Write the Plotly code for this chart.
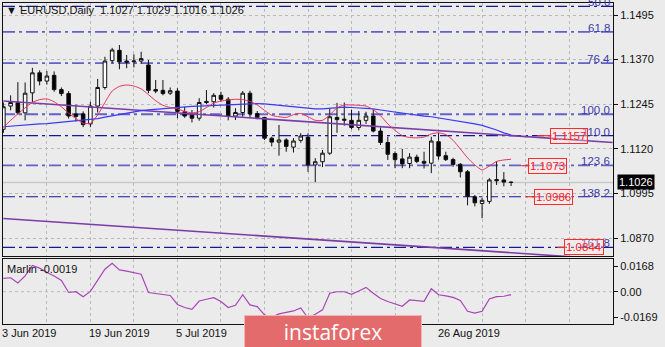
import plotly.graph_objects as go

# ---------------- data ----------------
dates = ["2019-06-03","2019-06-04","2019-06-05","2019-06-06","2019-06-07",
         "2019-06-10","2019-06-11","2019-06-12","2019-06-13","2019-06-14",
         "2019-06-17","2019-06-18","2019-06-19","2019-06-20","2019-06-21",
         "2019-06-24","2019-06-25","2019-06-26","2019-06-27","2019-06-28",
         "2019-07-01","2019-07-02","2019-07-03","2019-07-04","2019-07-05",
         "2019-07-08","2019-07-09","2019-07-10","2019-07-11","2019-07-12",
         "2019-07-15","2019-07-16","2019-07-17","2019-07-18","2019-07-19",
         "2019-07-22","2019-07-23","2019-07-24","2019-07-25","2019-07-26",
         "2019-07-29","2019-07-30","2019-07-31","2019-08-01","2019-08-02",
         "2019-08-05","2019-08-06","2019-08-07","2019-08-08","2019-08-09",
         "2019-08-12","2019-08-13","2019-08-14","2019-08-15","2019-08-16",
         "2019-08-19","2019-08-20","2019-08-21","2019-08-22","2019-08-23",
         "2019-08-26","2019-08-27","2019-08-28","2019-08-29","2019-08-30",
         "2019-09-02","2019-09-03","2019-09-04","2019-09-05","2019-09-06",
         "2019-09-09"]

opens = [1.1175,1.1240,1.1250,1.1221,1.1277,1.1333,1.1310,1.1326,1.1286,1.1275,
         1.1218,1.1218,1.1190,1.1240,1.1292,1.1367,1.1396,1.1366,1.1364,1.1366,
         1.1355,1.1286,1.1284,1.1276,1.1282,1.1224,1.1214,1.1206,1.1253,1.1252,
         1.1270,1.1259,1.1212,1.1222,1.1276,1.1219,1.1208,1.1150,1.1139,1.1145,
         1.1125,1.1144,1.1153,1.1075,1.1084,1.1108,1.1208,1.1200,1.1200,1.1180,
         1.1200,1.1212,1.1170,1.1138,1.1107,1.1092,1.1079,1.1097,1.1085,1.1080,
         1.1140,1.1101,1.1090,1.1077,1.1056,1.0986,1.0967,1.0973,1.1034,1.1033,
         1.1027]
highs = [1.1250,1.1270,1.1307,1.1306,1.1347,1.1340,1.1338,1.1337,1.1292,1.1282,
         1.1244,1.1225,1.1252,1.1316,1.1378,1.1403,1.1411,1.1383,1.1385,1.1392,
         1.1369,1.1313,1.1313,1.1292,1.1290,1.1238,1.1229,1.1262,1.1285,1.1276,
         1.1280,1.1265,1.1234,1.1282,1.1283,1.1226,1.1210,1.1154,1.1187,1.1150,
         1.1150,1.1164,1.1164,1.1094,1.1117,1.1234,1.1249,1.1250,1.1230,1.1226,
         1.1224,1.1229,1.1180,1.1154,1.1113,1.1120,1.1108,1.1104,1.1112,1.1154,
         1.1165,1.1112,1.1095,1.1080,1.1061,1.0991,1.0983,1.1038,1.1085,1.1055,
         1.1029]
lows = [1.1165,1.1228,1.1215,1.1200,1.1251,1.1298,1.1300,1.1280,1.1268,1.1205,
        1.1197,1.1181,1.1181,1.1222,1.1286,1.1360,1.1343,1.1346,1.1348,1.1358,
        1.1276,1.1276,1.1270,1.1271,1.1206,1.1207,1.1194,1.1199,1.1245,1.1236,
        1.1252,1.1200,1.1201,1.1210,1.1206,1.1203,1.1145,1.1127,1.1101,1.1112,
        1.1110,1.1137,1.1056,1.1027,1.1069,1.1103,1.1165,1.1185,1.1175,1.1172,
        1.1190,1.1166,1.1131,1.1089,1.1066,1.1066,1.1066,1.1080,1.1065,1.1052,
        1.1090,1.1086,1.1070,1.1040,1.0962,1.0959,1.0926,1.0966,1.1019,1.1015,
        1.1016]
closes = [1.1238,1.1250,1.1221,1.1276,1.1333,1.1310,1.1324,1.1286,1.1275,1.1212,
          1.1211,1.1188,1.1240,1.1292,1.1366,1.1397,1.1364,1.1363,1.1366,1.1373,
          1.1284,1.1282,1.1275,1.1283,1.1225,1.1212,1.1206,1.1250,1.1250,1.1270,
          1.1259,1.1212,1.1222,1.1276,1.1218,1.1208,1.1150,1.1139,1.1145,1.1127,
          1.1142,1.1156,1.1075,1.1084,1.1108,1.1210,1.1202,1.1203,1.1180,1.1200,
          1.1212,1.1170,1.1138,1.1105,1.1090,1.1078,1.1097,1.1085,1.1080,1.1142,
          1.1100,1.1090,1.1076,1.1056,1.0987,1.0969,1.0976,1.1033,1.1031,1.1027,
          1.1026]

red_ma = [1.1180,1.1200,1.1218,1.1235,1.1250,1.1258,1.1260,1.1252,1.1238,1.1220,
          1.1205,1.1192,1.1192,1.1215,1.1250,1.1282,1.1295,1.1299,1.1296,1.1288,
          1.1272,1.1255,1.1242,1.1236,1.1232,1.1225,1.1221,1.1224,1.1236,1.1248,
          1.1254,1.1257,1.1259,1.1258,1.1253,1.1243,1.1228,1.1214,1.1210,1.1208,
          1.1216,1.1219,1.1210,1.1200,1.1200,1.1215,1.1235,1.1243,1.1243,1.1242,
          1.1240,1.1230,1.1213,1.1190,1.1172,1.1157,1.1152,1.1151,1.1153,1.1162,
          1.1165,1.1160,1.1144,1.1120,1.1095,1.1075,1.1061,1.1072,1.1085,1.1089,
          1.1091]
blue_ma = [1.1182,1.1184,1.1185,1.1187,1.1188,1.1190,1.1191,1.1193,1.1194,1.1196,
           1.1197,1.1199,1.1202,1.1205,1.1209,1.1213,1.1217,1.1221,1.1224,1.1227,
           1.1229,1.1231,1.1233,1.1235,1.1236,1.1238,1.1239,1.1240,1.1241,1.1242,
           1.1243,1.1244,1.1245,1.1246,1.1247,1.1247,1.1246,1.1244,1.1242,1.1240,
           1.1238,1.1236,1.1234,1.1232,1.1232,1.1234,1.1236,1.1237,1.1236,1.1235,
           1.1234,1.1232,1.1229,1.1226,1.1222,1.1220,1.1217,1.1215,1.1212,1.1210,
           1.1207,1.1204,1.1201,1.1197,1.1193,1.1190,1.1186,1.1180,1.1173,1.1165,
           1.1159]
marlin = [0.0089,0.0093,0.0058,0.0105,0.0175,0.0157,0.0128,0.0105,0.0075,-0.0005,
          0.0000,-0.0033,0.0002,0.0080,0.0150,0.0190,0.0145,0.0137,0.0128,0.0117,
          -0.0005,-0.0010,-0.0015,-0.0025,-0.0085,-0.0105,-0.0117,-0.0062,-0.0050,-0.0040,
          -0.0065,-0.0105,-0.0090,-0.0020,-0.0088,-0.0099,-0.0154,-0.0170,-0.0148,-0.0140,
          -0.0128,-0.0108,-0.0175,-0.0150,-0.0121,-0.0010,0.0000,0.0000,-0.0017,0.0005,
          0.0029,-0.0010,-0.0045,-0.0065,-0.0083,-0.0097,-0.0055,-0.0060,-0.0064,0.0020,
          -0.0020,-0.0028,-0.0038,-0.0058,-0.0130,-0.0143,-0.0130,-0.0048,-0.0033,-0.0030,
          -0.0019]

# channel (two parallel trend lines), endpoints in bar index / price
channel_x = [0, 84]
channel_upper = [1.1254, 1.1138]
channel_lower = [1.0925, 1.0810]

fib_labels = ["50.0", "61.8", "76.4", "100.0", "110.0", "123.6", "138.2", "161.8"]
fib_prices = [1.1519, 1.1448, 1.1360, 1.1217, 1.1157, 1.1074, 1.0986, 1.0844]

price_labels = [1.1157, 1.1073, 1.0986, 1.0844]

price_ticks = [1.1495, 1.1370, 1.1245, 1.1120, 1.0995, 1.0870]
marlin_ticks = [0.0168, 0.0, -0.0169]
marlin_ticktext = ["0.0168", "0.00", "-0.0169"]

date_tick_idx = [0, 12, 24, 36, 48, 60]
date_tick_text = ["3 Jun 2019", "19 Jun 2019", "5 Jul 2019", "23 Jul 2019", "8 Aug 2019", "26 Aug 2019"]

last_price = 1.1026
title_text = "EURUSD,Daily  1.1027 1.1029 1.1016 1.1026"
marlin_text = "Marlin -0.0019"

# ---------------- figure ----------------
FONT = "Liberation Sans, Arial, sans-serif"
BG = "#ebebeb"
GRID = "#b9b9b9"
xs = list(range(len(dates)))

fig = go.Figure()

fig.add_trace(go.Candlestick(
    x=xs, open=opens, high=highs, low=lows, close=closes,
    xaxis="x", yaxis="y",
    increasing=dict(line=dict(color="#111111", width=1), fillcolor="white"),
    decreasing=dict(line=dict(color="#111111", width=1), fillcolor="black"),
    whiskerwidth=0, showlegend=False, hoverinfo="skip"))

fig.add_trace(go.Scatter(x=channel_x, y=channel_upper, mode="lines",
                         line=dict(color="#7a3ca6", width=1.6), xaxis="x", yaxis="y",
                         showlegend=False, hoverinfo="skip"))
fig.add_trace(go.Scatter(x=channel_x, y=channel_lower, mode="lines",
                         line=dict(color="#7a3ca6", width=1.6), xaxis="x", yaxis="y",
                         showlegend=False, hoverinfo="skip"))
fig.add_trace(go.Scatter(x=xs, y=blue_ma, mode="lines",
                         line=dict(color="#3a3af5", width=1.2), xaxis="x", yaxis="y",
                         showlegend=False, hoverinfo="skip"))
fig.add_trace(go.Scatter(x=xs, y=red_ma, mode="lines",
                         line=dict(color="#e8335a", width=1, shape="spline", smoothing=0.6),
                         xaxis="x", yaxis="y", showlegend=False, hoverinfo="skip"))
fig.add_trace(go.Scatter(x=xs, y=marlin, mode="lines",
                         line=dict(color="#a845b8", width=1.2), xaxis="x2", yaxis="y2",
                         showlegend=False, hoverinfo="skip"))

X0, X1 = -0.05, 84.05
shapes = []
# bid line
shapes.append(dict(type="line", xref="x", x0=X0, x1=X1, yref="y", y0=last_price, y1=last_price,
                   line=dict(color="#c9c9c9", width=1.5), layer="below"))
# fib lines
fib_dark = {"50.0", "110.0", "138.2", "161.8"}
for lab, p in zip(fib_labels, fib_prices):
    if lab in fib_dark:
        ln = dict(color="#17179a", width=1.2, dash="12px,4px,3px,4px")
    else:
        ln = dict(color="#6262c8", width=1.8, dash="12px,4px,3px,4px")
    shapes.append(dict(type="line", xref="x", x0=X0, x1=X1, yref="y", y0=p, y1=p,
                       line=ln, layer="below"))
# zero line of lower panel
shapes.append(dict(type="line", xref="x2", x0=X0, x1=X1, yref="y2", y0=0, y1=0,
                   line=dict(color=GRID, width=1, dash="dot"), layer="below"))
# red leader segments for price labels
seg_pos = [(73.6, 75.6), (71.4, 72.6), (72.0, 73.5), (76.4, 77.6)]
for p, (a, b) in zip(price_labels, seg_pos):
    shapes.append(dict(type="line", xref="x", x0=a, x1=b, yref="y", y0=p, y1=p,
                       line=dict(color="#ff2a2a", width=1.2), layer="above"))

annotations = []
# title
annotations.append(dict(xref="paper", yref="paper", x=0, y=1, xanchor="left", yanchor="top",
                        xshift=1, yshift=1, showarrow=False,
                        text="\u25BC " + title_text,
                        font=dict(family=FONT, size=11, color="#111111")))
# fib labels
for lab, p in zip(fib_labels, fib_prices):
    annotations.append(dict(xref="paper", yref="y", x=1, y=p, xanchor="right", yanchor="bottom",
                            xshift=-1, yshift=-4, showarrow=False, text=lab,
                            font=dict(family=FONT, size=11.5, color="#3c3ca8")))
# red price labels
label_pos = [78.0, 75.0, 75.8, 80.1]
for p, xp in zip(price_labels, label_pos):
    annotations.append(dict(xref="x", yref="y", x=xp, y=p, xanchor="center", yanchor="middle",
                            showarrow=False, text="%.4f" % p,
                            font=dict(family=FONT, size=11.5, color="#ff2020"),
                            bordercolor="#ff2a2a", borderwidth=1, borderpad=1,
                            bgcolor="rgba(255,235,235,0.35)"))
# current price tag
annotations.append(dict(xref="paper", yref="y", x=1, y=last_price, xanchor="left", yanchor="middle",
                        xshift=4, showarrow=False, text="%.4f" % last_price,
                        font=dict(family=FONT, size=11, color="white"),
                        bgcolor="black", borderpad=1))
# Marlin label
annotations.append(dict(xref="paper", yref="y2 domain", x=0, y=1, xanchor="left", yanchor="top",
                        xshift=2, yshift=-2, showarrow=False, text=marlin_text,
                        font=dict(family=FONT, size=11, color="#111111")))
# date labels
for i, t in zip(date_tick_idx, date_tick_text):
    annotations.append(dict(xref="x", yref="paper", x=i, y=-0.028, xanchor="left", yanchor="middle",
                            xshift=-3, showarrow=False, text=t,
                            font=dict(family=FONT, size=11, color="#111111")))
# watermark
annotations.append(dict(xref="paper", yref="paper", x=(333 - 3) / 610, y=(324 - 331.5) / 321,
                        xanchor="center", yanchor="middle", showarrow=False,
                        text="instaforex", width=174, height=29,
                        bgcolor="#e36b6b", bordercolor="#f3b3b3", borderwidth=1,
                        font=dict(family="Open Sans, sans-serif", size=21, color="white")))

axis_common = dict(showline=True, linecolor="#111111", linewidth=1, mirror=True,
                   zeroline=False)

fig.update_layout(
    width=665, height=347,
    margin=dict(l=3, r=52, t=3, b=23),
    paper_bgcolor=BG, plot_bgcolor=BG,
    showlegend=False,
    font=dict(family=FONT, size=11, color="#111111"),
    xaxis=dict(domain=[0, 1], anchor="y", range=[X0, X1],
               tickmode="linear", tick0=0, dtick=6, showticklabels=False, ticks="",
               showgrid=True, gridcolor=GRID, griddash="dot", gridwidth=1,
               rangeslider=dict(visible=False), **axis_common),
    xaxis2=dict(domain=[0, 1], anchor="y2", range=[X0, X1], matches="x",
                tickmode="linear", tick0=0, dtick=6, showticklabels=False, ticks="",
                showgrid=True, gridcolor=GRID, griddash="dot", gridwidth=1,
                **axis_common),
    yaxis=dict(domain=[0.2118, 1], anchor="x", side="right", range=[1.0820, 1.15286],
               tickmode="array", tickvals=price_ticks, ticktext=["%.4f" % v for v in price_ticks],
               ticks="outside", ticklen=4, tickcolor="#111111",
               tickfont=dict(family=FONT, size=11, color="#111111"),
               showgrid=True, gridcolor=GRID, griddash="dot", gridwidth=1,
               **axis_common),
    yaxis2=dict(domain=[0, 0.2025], anchor="x2", side="right", range=[-0.0215, 0.0218],
                tickmode="array", tickvals=marlin_ticks, ticktext=marlin_ticktext,
                ticks="outside", ticklen=4, tickcolor="#111111",
                tickfont=dict(family=FONT, size=11, color="#111111"),
                showgrid=False, **axis_common),
    shapes=shapes,
    annotations=annotations,
)

fig.write_html("out.html")
